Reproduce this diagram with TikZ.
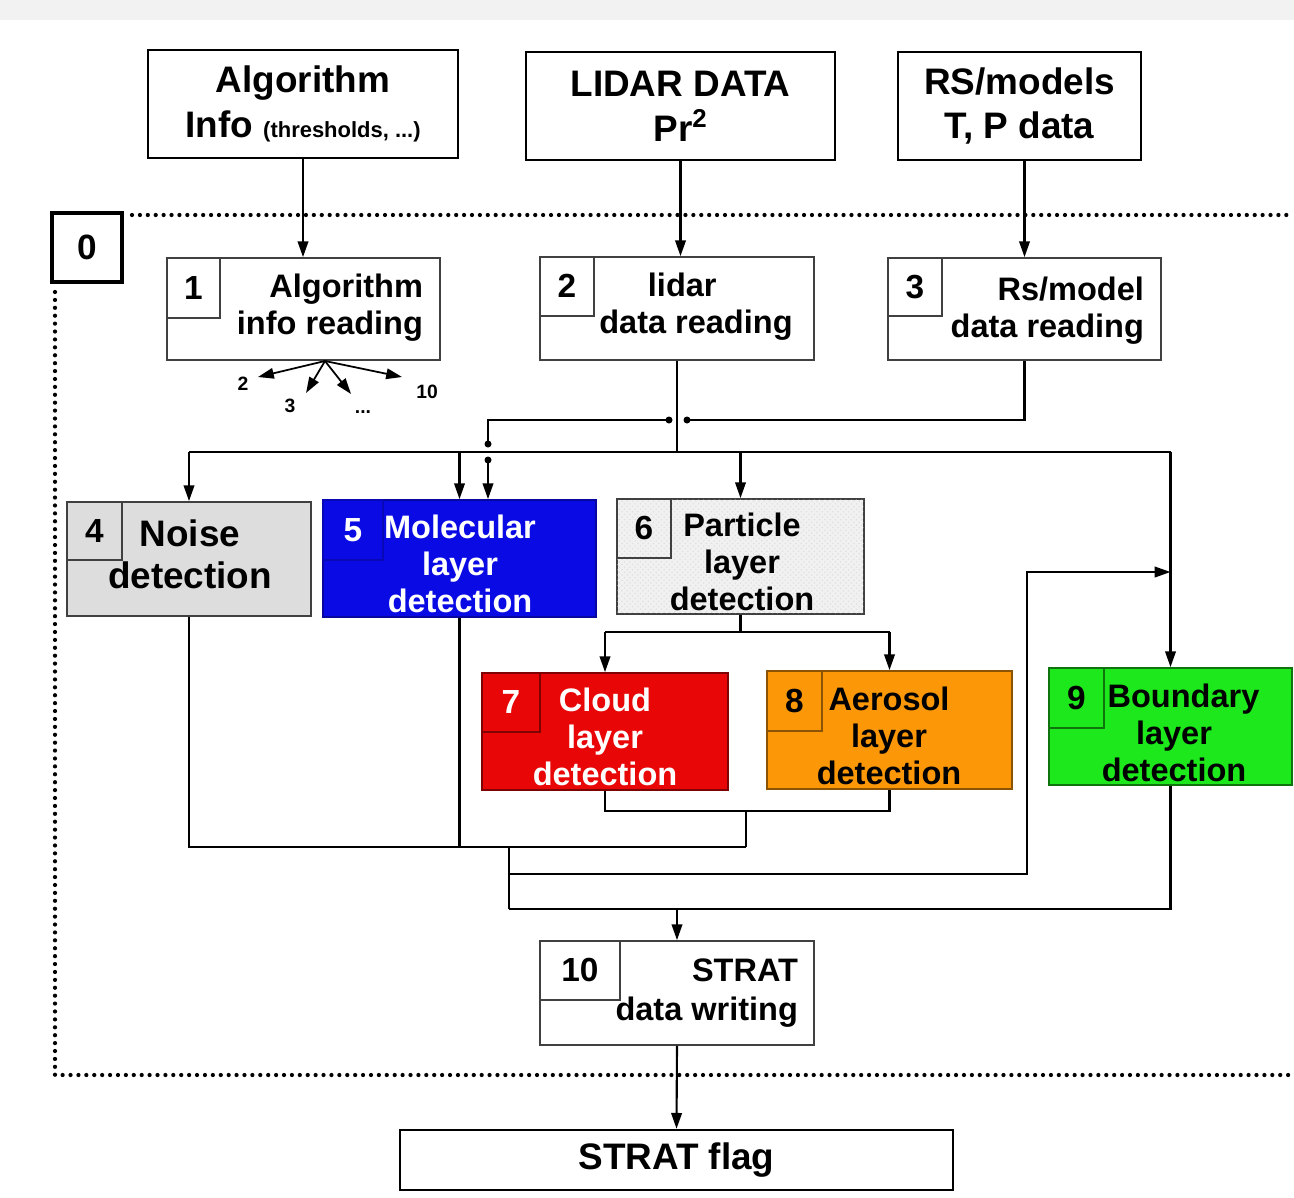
\documentclass[tikz,border=0pt]{standalone}
\usepackage{fontspec}
\setmainfont{Liberation Sans}
\usetikzlibrary{arrows.meta,patterns}

\definecolor{bandgray}{RGB}{242,242,242}
\definecolor{noisegray}{RGB}{221,221,221}
\definecolor{molblue}{RGB}{10,10,228}
\definecolor{partgray}{RGB}{241,241,241}
\definecolor{cloudred}{RGB}{232,6,6}
\definecolor{aeroorange}{RGB}{252,152,8}
\definecolor{blgreen}{RGB}{28,232,28}

\tikzset{
	inbox/.style={draw, line width=1.4pt, inner sep=0pt, align=center, font=\fontsize{21}{25.5}\selectfont\bfseries},
	stepbox/.style={draw=black!75, line width=1pt, inner sep=0pt},
	numbox/.style={draw=black!75, line width=0.8pt, anchor=north west, inner sep=0pt, minimum width=1.1cm, minimum height=1.18cm, font=\fontsize{19}{22}\selectfont\bfseries},
	steptext/.style={inner sep=0pt, align=center, font=\fontsize{18.5}{21}\selectfont\bfseries},
	fanlabel/.style={inner sep=0pt, font=\fontsize{11}{13}\selectfont\bfseries},
	dotline/.style={line width=2.4pt, dash pattern=on 0pt off 4.5pt, line cap=round}
}

\begin{document}
\begin{tikzpicture}[x=0.02cm, y=-0.02cm, line width=1.2pt, >={Triangle[length=9pt,width=6pt]}]
			% Draw background
			\useasboundingbox (0,0) rectangle (1294,1197);
			\fill[white] (0,0) rectangle (1294,1197);
			\fill[bandgray] (0,0) rectangle (1294,20);

			% Draw input boxes
			\node[inbox, minimum width=6.2cm, minimum height=2.16cm] (algo) at (303,104) {Algorithm\\Info {\fontsize{12.5}{14}\selectfont (thresholds, ...)}};
			\node[inbox, minimum width=6.18cm, minimum height=2.16cm] (lidar) at (680.5,106) {LIDAR DATA\\Pr\textsuperscript{2}};
			\node[inbox, minimum width=4.86cm, minimum height=2.16cm] (rsmod) at (1019.5,106) {RS/models\\T, P data};

			% Draw module 0 frame
			\node[draw, line width=2.6pt, minimum width=1.4cm, minimum height=1.38cm, font=\fontsize{20}{24}\selectfont\bfseries] (m0) at (87,247.5) {0};
			\draw[dotline] (132,215) -- (1294,215);
			\draw[dotline] (55,292) -- (55,1075) -- (1294,1075);

			% Draw step boxes
			\node[stepbox, minimum width=5.46cm, minimum height=2.04cm] (s1) at (303.5,309) {};
			\node[numbox, minimum width=1.06cm, minimum height=1.2cm] (n1) at (s1.north west) {1};
			\node[steptext, anchor=east, align=right] (l1) at (424,308) {Algorithm\\info reading};

			\node[stepbox, minimum width=5.48cm, minimum height=2.06cm] (s2) at (677,308.5) {};
			\node[numbox, minimum width=1.08cm] (n2) at (s2.north west) {2};
			\node[steptext] (l2) at (696,307) {lidar\hspace*{0.55cm}\\data reading};

			\node[stepbox, minimum width=5.46cm, minimum height=2.04cm] (s3) at (1024.5,309) {};
			\node[numbox, minimum width=1.08cm, minimum height=1.16cm] (n3) at (s3.north west) {3};
			\node[steptext, anchor=east, align=right] (l3) at (1145,311) {Rs/model\\data reading};

			\node[stepbox, fill=noisegray, minimum width=4.88cm, minimum height=2.28cm] (s4) at (189,559) {};
			\node[numbox, minimum height=1.16cm] (n4) at (s4.north west) {4};
			\node[steptext, font=\fontsize{21}{23.8}\selectfont\bfseries] (l4) at (190,554) {Noise\\detection};

			\node[stepbox, fill=molblue, draw=molblue!70!black, minimum width=5.46cm, minimum height=2.34cm] (s5) at (459.5,558.5) {};
			\node[numbox, draw=molblue!80!black, text=white, minimum width=1.2cm, minimum height=1.2cm] (n5) at (s5.north west) {5};
			\node[steptext, text=white] (l5) at (460,564) {Molecular\\layer\\detection};

			\node[stepbox, fill=partgray, postaction={pattern=crosshatch dots, pattern color=black!12}, minimum width=4.94cm, minimum height=2.3cm] (s6) at (740.5,556.5) {};
			\node[numbox, minimum width=1.08cm] (n6) at (s6.north west) {6};
			\node[steptext] (l6) at (742,562) {Particle\\layer\\detection};

			\node[stepbox, fill=cloudred, draw=cloudred!55!black, minimum width=4.92cm, minimum height=2.34cm] (s7) at (605,731.5) {};
			\node[numbox, draw=cloudred!55!black, text=white, minimum width=1.16cm] (n7) at (s7.north west) {7};
			\node[steptext, text=white] (l7) at (605,737) {Cloud\\layer\\detection};

			\node[stepbox, fill=aeroorange, draw=aeroorange!55!black, minimum width=4.9cm, minimum height=2.36cm] (s8) at (889.5,730) {};
			\node[numbox, draw=aeroorange!55!black, minimum height=1.2cm] (n8) at (s8.north west) {8};
			\node[steptext] (l8) at (889,735.5) {Aerosol\\layer\\detection};

			\node[stepbox, fill=blgreen, draw=blgreen!50!black, minimum width=4.86cm, minimum height=2.34cm] (s9) at (1170.5,726.5) {};
			\node[numbox, draw=blgreen!50!black, minimum height=1.2cm] (n9) at (s9.north west) {9};
			\node[steptext] (l9) at (1174,733) {\hspace*{0.38cm}Boundary\\layer\\detection};

			\node[stepbox, minimum width=5.48cm, minimum height=2.08cm] (s10) at (677,993) {};
			\node[numbox, minimum width=1.6cm] (n10) at (s10.north west) {10};
			\node[steptext, anchor=east, align=right, font=\fontsize{18.5}{22}\selectfont\bfseries] (l10) at (799,993) {STRAT\\data writing};

			\node[inbox, minimum width=11.06cm, minimum height=1.2cm] (flag) at (676.5,1160) {STRAT flag};

			% Draw fan of step 1
			\coordinate (fan) at (325,361);
			\coordinate (a2) at (258,377);
			\coordinate (a3) at (306,393);
			\coordinate (a4) at (351,394);
			\coordinate (a10) at (402,377);
			\node[fanlabel] (f2) at (243,384) {2};
			\node[fanlabel] (f3) at (290,406) {3};
			\node[fanlabel] (f4) at (363,412) {...};
			\node[fanlabel] (f10) at (427,392) {10};
			\draw[->, line width=1pt] (fan) -- (a2);
			\draw[->, line width=1pt] (fan) -- (a3);
			\draw[->, line width=1pt] (fan) -- (a4);
			\draw[->, line width=1pt] (fan) -- (a10);

			% Draw input arrows
			\draw[->] (algo.south) -- (algo.south |- s1.north);
			\draw[->] (lidar.south) -- (lidar.south |- s2.north);
			\draw[->] (s3.north |- rsmod.south) -- (s3.north);

			% Draw bus to steps 4, 5, 6 and 9
			\coordinate (bus) at (0,452);
			\draw (s2.south) -- (s2.south |- bus);
			\draw (s4.north |- bus) -- (s9.north |- bus);
			\draw[->] (s4.north |- bus) -- (s4.north);
			\draw[->] (s5.north |- bus) -- (s5.north);
			\draw[->] (s6.north |- bus) -- (s6.north);
			\draw[->] (s9.north |- bus) -- (s9.north);

			% Draw Rs/model line with hops
			\coordinate (hr) at (687,420);
			\coordinate (hl) at (669,420);
			\coordinate (ht) at (488,444);
			\coordinate (hb) at (488,460);
			\draw (s3.south) |- (hr);
			\draw (hl) -| (ht);
			\draw[->] (hb) -- (hb |- s5.north);
			\fill (hr) circle[radius=0.07cm];
			\fill (hl) circle[radius=0.07cm];
			\fill (ht) circle[radius=0.07cm];
			\fill (hb) circle[radius=0.07cm];

			% Draw split to steps 7 and 8
			\coordinate (ysp) at (0,632);
			\draw (s6.south) -- (s6.south |- ysp);
			\draw (s7.north |- ysp) -- (s8.north |- ysp);
			\draw[->] (s7.north |- ysp) -- (s7.north);
			\draw[->] (s8.north |- ysp) -- (s8.north);

			% Draw outputs to step 10
			\coordinate (j78) at (746,811);
			\coordinate (c1) at (746,847);
			\coordinate (c2) at (509,847);
			\coordinate (c4) at (509,874);
			\coordinate (c3) at (509,909);
			\coordinate (fb) at (1027,572);
			\draw (s7.south) |- (j78) -| (s8.south);
			\draw (j78) -- (c1);
			\draw (s4.south) |- (c1);
			\draw (s5.south) -- (s5.south |- c1);
			\draw (c2) -- (c3);
			\draw[->] (c4) -| (fb) -- (fb -| s9.north);
			\draw (s9.south) |- (c3);
			\draw[->] (s10.north |- c3) -- (s10.north);
			\draw[->] (s10.south) -- (flag.north);
		\end{tikzpicture}
\end{document}
